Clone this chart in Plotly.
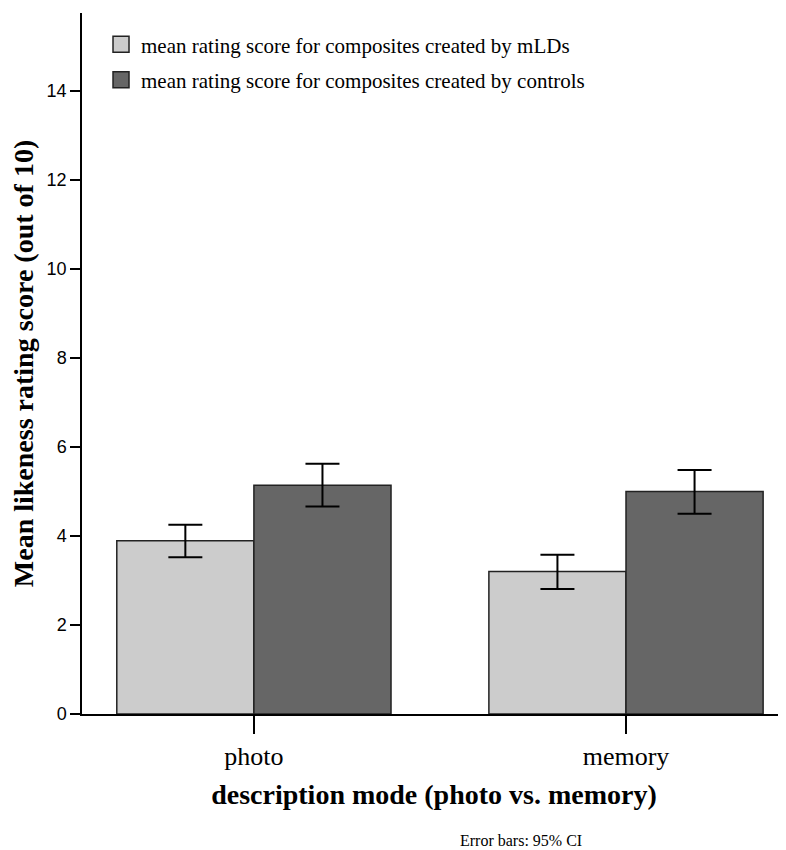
import plotly.graph_objects as go

modes = ["photo", "memory"]
mld_mean = [3.89, 3.20]
mld_hi = [4.25, 3.58]
mld_lo = [3.52, 2.81]
ctl_mean = [5.14, 5.00]
ctl_hi = [5.62, 5.48]
ctl_lo = [4.66, 4.50]

names = ["mean rating score for composites created by mLDs",
         "mean rating score for composites created by controls"]
fills = ["#cccccc", "#666666"]

serif = "Liberation Serif, Times New Roman, serif"
sans = "Liberation Sans, Arial, sans-serif"


def bar(mean, hi, lo, fill):
    return go.Bar(
        x=modes, y=mean, showlegend=False,
        marker=dict(color=fill, line=dict(color="#222222", width=1.5)),
        error_y=dict(type="data", symmetric=False,
                     array=[h - m for h, m in zip(hi, mean)],
                     arrayminus=[m - l for m, l in zip(mean, lo)],
                     color="black", thickness=2, width=17),
    )


fig = go.Figure([
    bar(mld_mean, mld_hi, mld_lo, fills[0]),
    bar(ctl_mean, ctl_hi, ctl_lo, fills[1]),
])

# legend entries with big square swatches
for name, fill in zip(names, fills):
    fig.add_trace(go.Scatter(
        x=[None], y=[None], mode="markers", name=name, legendgroup=name,
        marker=dict(symbol="square", size=24, color=fill,
                    line=dict(color="#222222", width=1.5)),
    ))

fig.update_layout(
    width=778, height=842,
    margin=dict(l=74, r=0, t=5, b=136, autoexpand=False),
    plot_bgcolor="white", paper_bgcolor="white",
    barmode="group", bargap=0.263, bargroupgap=0,
    font=dict(family=serif, color="black"),
    legend=dict(x=0.027, y=0.984, xanchor="left", yanchor="top",
                font=dict(family=serif, size=21), tracegroupgap=5,
                bgcolor="rgba(0,0,0,0)"),
    xaxis=dict(range=[-0.462, 1.43], showline=True, linecolor="black", linewidth=1.5,
               ticks="outside", ticklen=18, tickwidth=2, tickcolor="black",
               tickfont=dict(family=serif, size=26),
               title=dict(text="<b>description mode (photo vs. memory)</b>",
                          font=dict(family=serif, size=28), standoff=14)),
    yaxis=dict(range=[0, 15.75], showline=True, linecolor="black", linewidth=1.5,
               showgrid=False, zeroline=False, dtick=2,
               ticks="outside", ticklen=10, tickwidth=1.5, tickcolor="black",
               tickfont=dict(family=sans, size=18),
               title=dict(text="<b>Mean likeness rating score (out of 10)</b>",
                          font=dict(family=serif, size=28), standoff=8)),
    annotations=[dict(text="Error bars: 95% CI", xref="paper", yref="paper",
                      x=0.624, y=-0.181, xanchor="center", yanchor="middle",
                      showarrow=False, font=dict(family=serif, size=16))],
)

fig.write_html("out.html")
